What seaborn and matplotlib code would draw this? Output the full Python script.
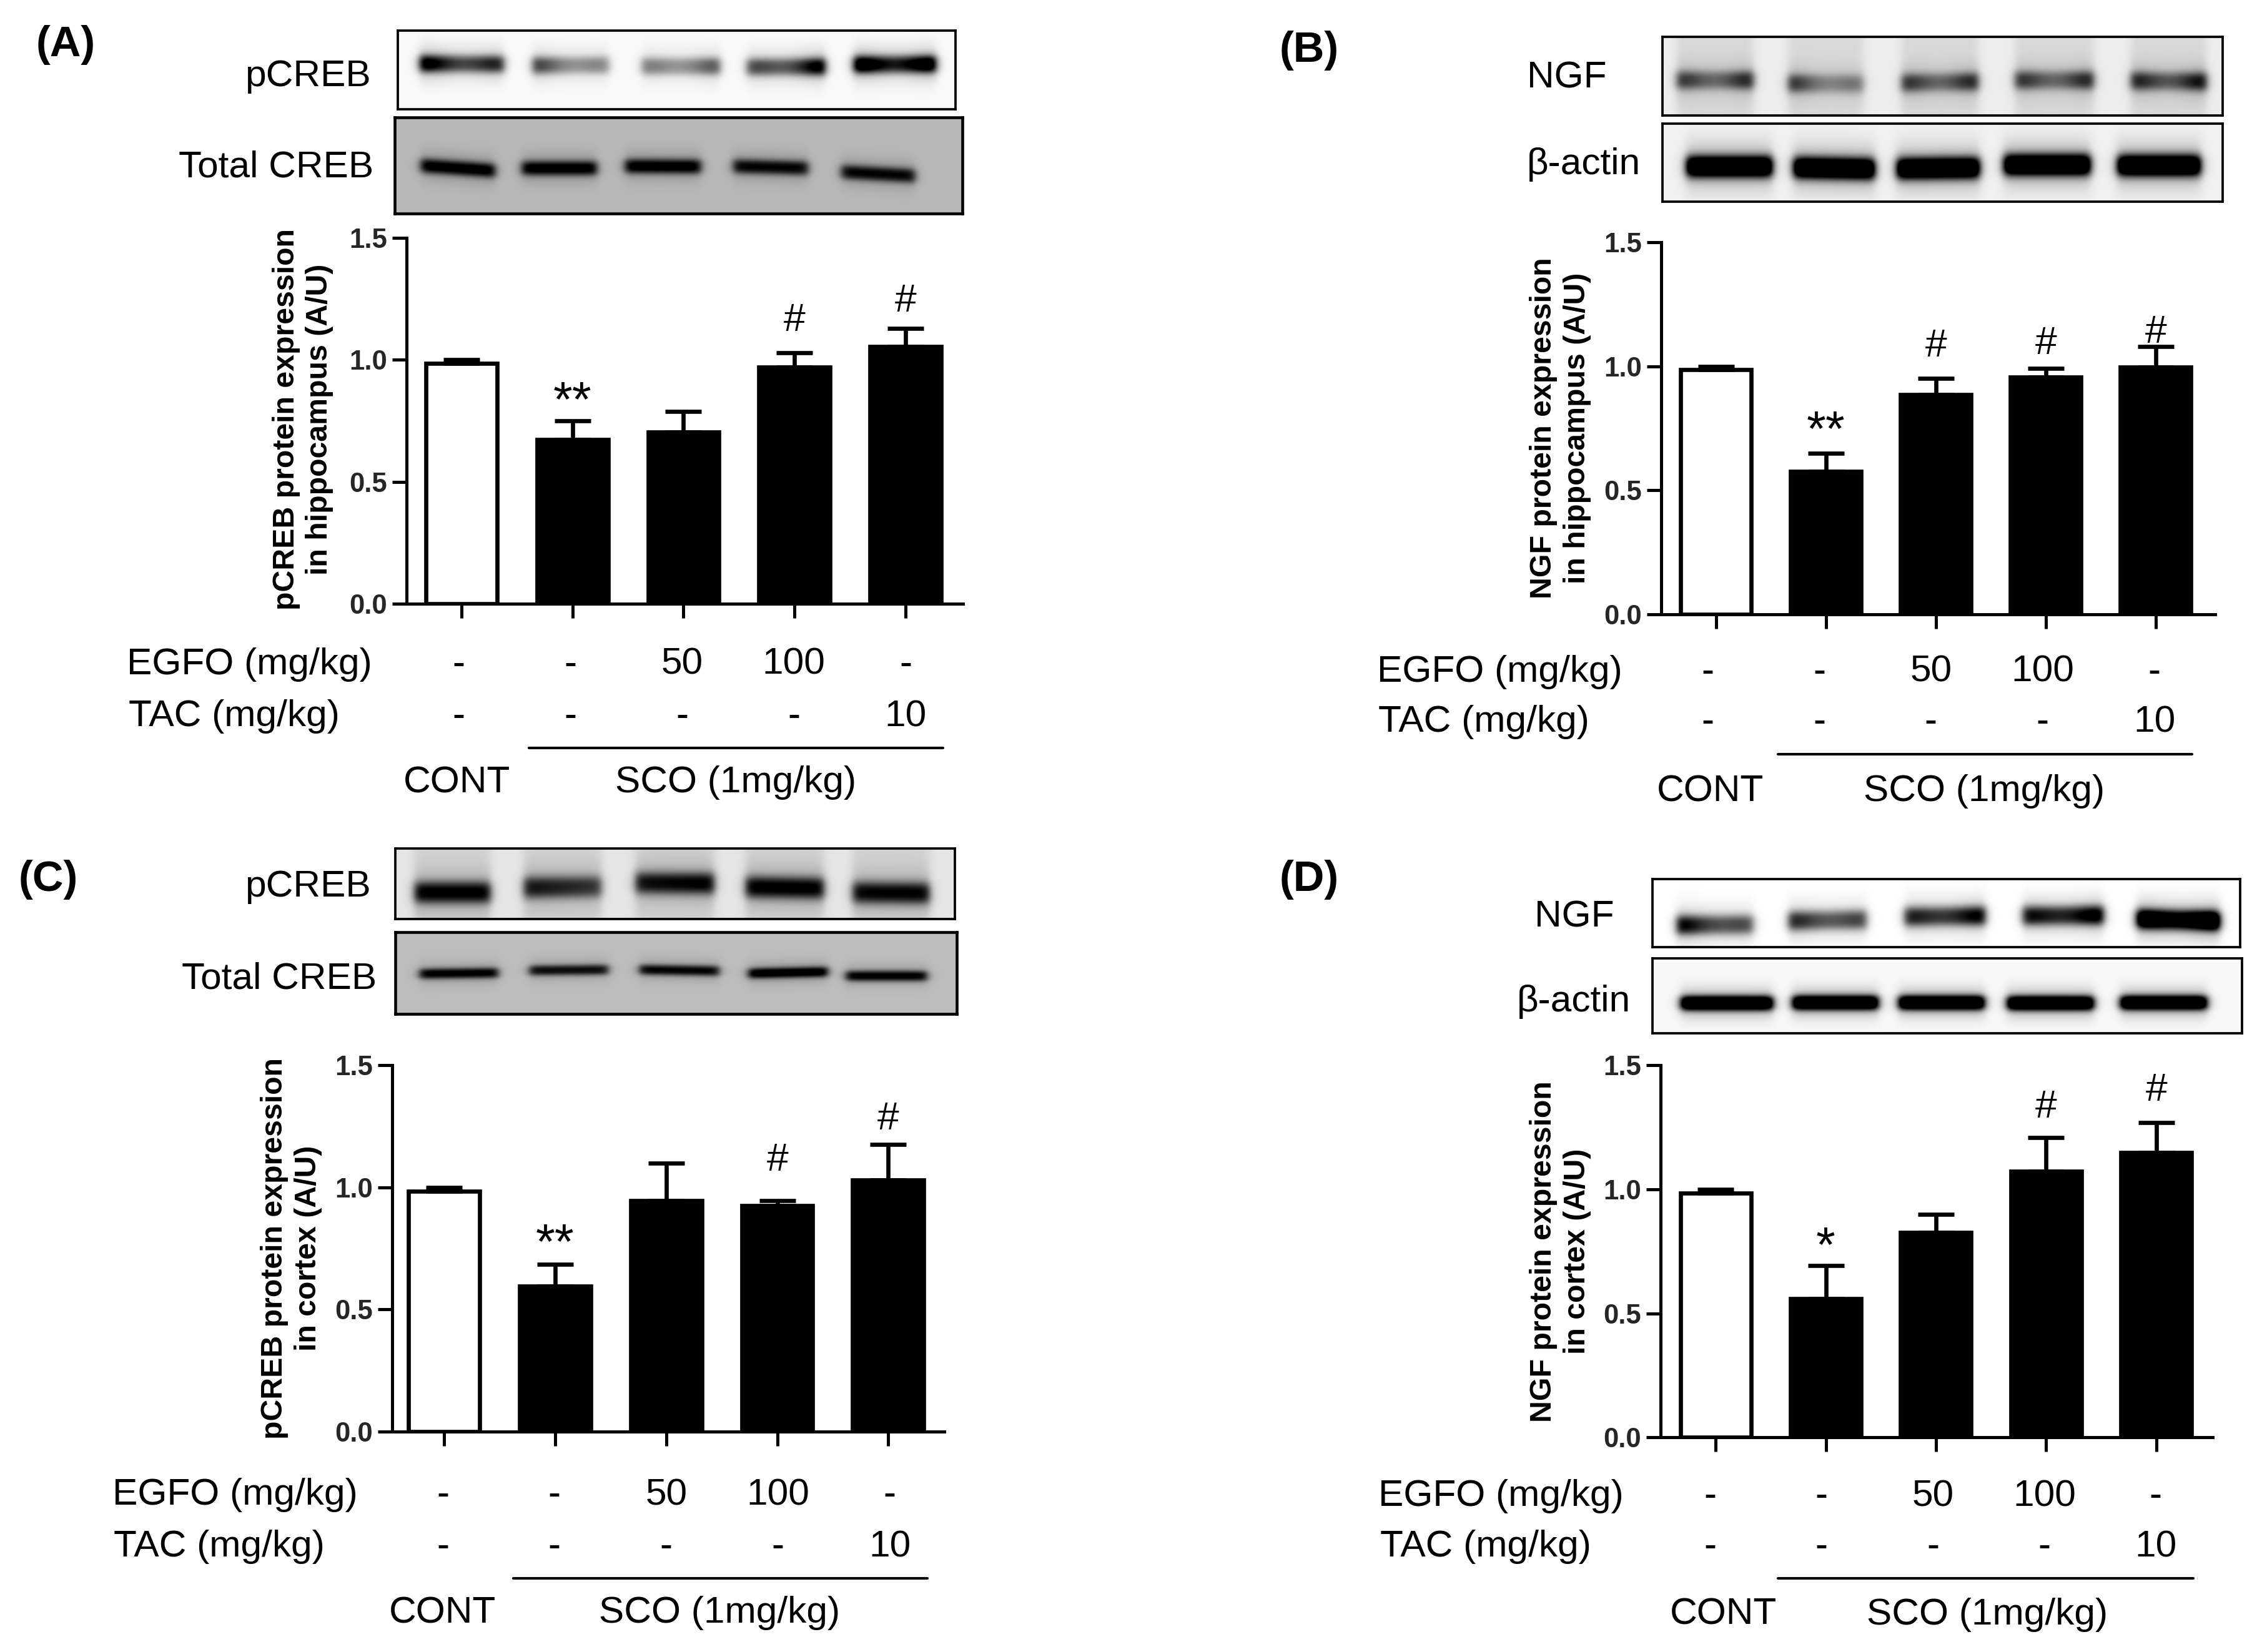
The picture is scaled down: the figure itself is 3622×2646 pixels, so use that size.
import numpy as np
import pandas as pd
import seaborn as sns
import matplotlib.pyplot as plt
from matplotlib.lines import Line2D

sns.set_style('ticks')
plt.rcParams['font.family'] = ['Liberation Sans', 'DejaVu Sans']
plt.rcParams['axes.unicode_minus'] = False

# data
groups = ['CONT', 'SCO', 'SCO+EGFO50', 'SCO+EGFO100', 'SCO+TAC10']
egfo_dose = ['-', '-', '50', '100', '-']
tac_dose = ['-', '-', '-', '-', '10']

a_values = [0.985, 0.675, 0.705, 0.97, 1.055]
a_tops = [1.00, 0.75, 0.79, 1.03, 1.13]
a_marks = ['', '**', '', '#', '#']
a_mark_y = [0, 0.82, 0, 1.16, 1.24]

b_values = [0.985, 0.575, 0.885, 0.955, 0.995]
b_tops = [1.00, 0.65, 0.95, 0.99, 1.08]
b_marks = ['', '**', '#', '#', '#']
b_mark_y = [0, 0.73, 1.08, 1.09, 1.135]

c_values = [0.985, 0.595, 0.945, 0.925, 1.03]
c_tops = [1.00, 0.686, 1.10, 0.945, 1.175]
c_marks = ['', '**', '', '#', '#']
c_mark_y = [0, 0.76, 0, 1.11, 1.28]

d_values = [0.985, 0.56, 0.825, 1.072, 1.148]
d_tops = [1.00, 0.694, 0.90, 1.21, 1.27]
d_marks = ['', '*', '', '#', '#']
d_mark_y = [0, 0.76, 0, 1.33, 1.40]

W, H = 3622, 2646
S = W / 1568.6  # layout numbers below are in 1568 wide px

fig = plt.figure(figsize=(W / 300, H / 300), dpi=300)


def txt(x, y, s, size=14.5, **kw):
    kw.setdefault('va', 'center')
    fig.text(x * S / W, 1 - (y + 2) * S / H, s, fontsize=size, color='black', **kw)


def draw_bars(box, c0, step, values, tops, marks, mark_y):
    left, right, y0, y1 = box
    ax = fig.add_axes([left * S / W, 1 - y0 * S / H,
                       (right - left) * S / W, (y0 - y1) * S / H])
    df = pd.DataFrame({'group': groups, 'value': values})
    sns.barplot(data=df, x='group', y='value', hue='group',
                palette=['white', 'black', 'black', 'black', 'black'],
                dodge=False, legend=False, width=0.64, saturation=1,
                edgecolor='black', linewidth=1.6, errorbar=None, ax=ax)
    err = np.array(tops) - np.array(values)
    ax.errorbar(range(5), values, yerr=[np.zeros(5), err], fmt='none',
                ecolor='black', elinewidth=1.6, capsize=7, capthick=1.6)
    ax.set_xlim((left - c0) / step, (right - c0) / step)
    ax.set_ylim(0, 1.5)
    ax.set_xticks(range(5))
    ax.set_xticklabels([])
    ax.set_yticks([0, 0.5, 1.0, 1.5])
    ax.set_yticklabels(['0.0', '0.5', '1.0', '1.5'], fontweight='bold', fontsize=10.5)
    ax.tick_params(axis='both', width=1.2, length=5.5, color='black', pad=2)
    ax.set_xlabel('')
    ax.set_ylabel('')
    ax.patch.set_alpha(0)
    for side in ['left', 'bottom']:
        ax.spines[side].set_linewidth(1.2)
        ax.spines[side].set_color('black')
    sns.despine(ax=ax)
    for i, m in enumerate(marks):
        if m:
            ax.text(i, mark_y[i], m, ha='center', va='center',
                    fontsize=19 if '*' in m else 15, color='black')


def treatment_rows(x_label, y1, y2, line, xc0, xstep, line_y, cont_x, sco_x, y3):
    txt(x_label, y1, 'EGFO (mg/kg)')
    txt(x_label + 1, y2, 'TAC (mg/kg)')
    for i in range(5):
        txt(xc0 + i * xstep, y1, egfo_dose[i], ha='center')
        txt(xc0 + i * xstep, y2, tac_dose[i], ha='center')
    fig.add_artist(Line2D([line[0] * S / W, line[1] * S / W],
                          [1 - line_y * S / H] * 2, color='black', lw=1.0))
    txt(cont_x, y3, 'CONT', ha='center')
    txt(sco_x, y3, 'SCO (1mg/kg)', ha='center')


def blot(crop, box, bg, thick, bands, haze=0.0, dip=0.0, lw=0.9):
    # crop/box/bands come from zoomed views: zoomed px to image px
    cx, cy, cw = crop
    fx = cw / 1568
    bx0, bx1, by0, by1 = box
    x0, x1 = cx + bx0 * fx, cx + bx1 * fx
    y0, y1 = cy + by0 / 3, cy + by1 / 3
    xs = np.arange(x0, x1)
    ys = np.arange(y0, y1)
    xx, yy = np.meshgrid(xs, ys)
    dark = np.zeros_like(xx)
    tint = np.zeros_like(xx)
    for b0, b1, yl, yr, dl, dr in bands:
        a, b = cx + b0 * fx, cx + b1 * fx
        t = np.clip((xx - a) / (b - a), 0, 1)
        yc = cy + (yl + (yr - yl) * t) / 3
        d = (dl + (dr - dl) * t) * (1 - dip * np.sin(np.pi * t) ** 2)
        edge = 0.5 * (np.tanh((xx - a) / 8) - np.tanh((xx - b) / 8))
        th = thick / 3 / 2
        dark += d * edge * (np.exp(-np.abs((yy - yc) / th) ** 2.6) * 0.85 +
                            0.25 * np.exp(-((yy - yc) / (th * 1.9)) ** 2))
        tint += haze * edge
    img = bg * (1 - np.clip(tint, 0, 1)) * (1 - np.clip(dark, 0, 1))
    ax = fig.add_axes([x0 / W, 1 - y1 / H, (x1 - x0) / W, (y1 - y0) / H])
    ax.imshow(img, cmap='gray', vmin=0, vmax=1, aspect='auto', interpolation='bilinear')
    ax.set_xticks([])
    ax.set_yticks([])
    for sp in ax.spines.values():
        sp.set_visible(True)
        sp.set_linewidth(lw)
        sp.set_color('black')


# ---- panel A
txt(25, 29, '(A)', size=16.5, fontweight='bold')
blot((620, 30, 960), (28, 1486, 58, 435), 0.98, 85,
     [(85, 305, 215, 218, 1.1, 0.8), (380, 580, 224, 222, 0.72, 0.4),
      (665, 870, 228, 228, 0.45, 0.62), (940, 1145, 232, 230, 0.62, 1.1),
      (1220, 1435, 220, 218, 1.2, 1.2)], dip=0.3)
blot((620, 30, 960), (20, 1505, 475, 935), 0.72, 70,
     [(88, 282, 705, 730, 1.0, 1.0), (352, 548, 718, 718, 1.0, 1.0),
      (622, 820, 708, 710, 1.0, 1.0), (905, 1100, 708, 718, 0.9, 0.9),
      (1188, 1380, 735, 755, 0.9, 0.9)], lw=1.1)
txt(257, 51, 'pCREB', ha='right')
txt(259, 114, 'Total CREB', ha='right')
draw_bars((282, 668, 419, 165), 320, 77, a_values, a_tops, a_marks, a_mark_y)
txt(210, 289, 'pCREB protein expression\nin hippocampus (A/U)', size=11.6,
    fontweight='bold', rotation=90, ha='center', linespacing=1.25)
treatment_rows(88, 459, 495, (367, 654), 318, 77.5, 519, 317, 510, 541)

# ---- panel B
txt(887, 33, '(B)', size=16.5, fontweight='bold')
blot((2660, 40, 960), (3, 1468, 58, 435), 0.93, 90,
     [(40, 240, 265, 265, 0.7, 0.8), (332, 528, 280, 282, 0.75, 0.4),
      (628, 828, 278, 272, 0.72, 0.8), (925, 1130, 265, 265, 0.72, 0.8),
      (1228, 1425, 268, 272, 0.8, 0.92)], haze=0.09, dip=0.35)
blot((2660, 40, 960), (3, 1468, 475, 850), 0.94, 105,
     [(65, 290, 680, 680, 1.4, 1.4), (345, 558, 685, 692, 1.4, 1.4),
      (615, 832, 690, 686, 1.4, 1.4), (895, 1122, 672, 672, 1.4, 1.4),
      (1192, 1410, 675, 675, 1.4, 1.4)])
txt(1059, 52, 'NGF')
txt(1059, 112, 'β-actin')
draw_bars((1152, 1536, 426, 168), 1190, 76.2, b_values, b_tops, b_marks, b_mark_y)
txt(1082, 295, 'NGF protein expression\nin hippocampus (A/U)', size=11.6,
    fontweight='bold', rotation=90, ha='center', linespacing=1.25)
treatment_rows(955, 464, 499, (1233, 1520), 1184, 77.5, 523, 1186, 1376, 547)

# ---- panel C
txt(13, 608, '(C)', size=16.5, fontweight='bold')
blot((620, 1350, 960), (22, 1485, 28, 365), 0.9, 105,
     [(72, 270, 238, 238, 0.95, 0.95), (358, 560, 215, 210, 0.85, 0.68),
      (650, 855, 192, 195, 0.85, 0.95), (938, 1142, 212, 218, 0.95, 0.95),
      (1218, 1418, 238, 242, 0.9, 0.92)], haze=0.09)
blot((620, 1350, 960), (22, 1490, 428, 822), 0.74, 50,
     [(85, 290, 630, 625, 0.95, 0.95), (372, 578, 614, 610, 0.85, 0.85),
      (660, 868, 610, 616, 0.9, 0.9), (945, 1152, 628, 620, 1.05, 1.05),
      (1200, 1412, 640, 640, 0.95, 0.95)], lw=1.1)
txt(257, 613, 'pCREB', ha='right')
txt(261, 677, 'Total CREB', ha='right')
draw_bars((272, 655, 993, 739), 308, 77, c_values, c_tops, c_marks, c_mark_y)
txt(202, 864, 'pCREB protein expression\nin cortex (A/U)', size=11.6,
    fontweight='bold', rotation=90, ha='center', linespacing=1.25)
treatment_rows(78, 1035, 1071, (356, 643), 307, 77.5, 1095, 307, 499, 1117)

# ---- panel D
txt(887, 608, '(D)', size=16.5, fontweight='bold')
blot((2640, 1400, 980), (10, 1515, 25, 352), 1.0, 95,
     [(72, 268, 245, 242, 1.0, 0.62), (358, 558, 225, 218, 0.82, 0.68),
      (655, 862, 205, 200, 0.82, 1.0), (958, 1165, 200, 198, 0.9, 1.1),
      (1250, 1462, 215, 225, 1.4, 1.6)], dip=0.2)
blot((2640, 1400, 980), (10, 1520, 405, 765), 0.97, 70,
     [(82, 318, 620, 620, 1.4, 1.4), (368, 588, 618, 618, 1.4, 1.4),
      (640, 860, 618, 618, 1.4, 1.4), (918, 1140, 620, 620, 1.4, 1.4),
      (1208, 1430, 618, 618, 1.4, 1.4)])
txt(1064, 634, 'NGF')
txt(1052, 693, 'β-actin')
draw_bars((1151.6, 1534.5, 997, 739), 1189.7, 76.4, d_values, d_tops, d_marks, d_mark_y)
txt(1082, 866, 'NGF protein expression\nin cortex (A/U)', size=11.6,
    fontweight='bold', rotation=90, ha='center', linespacing=1.25)
treatment_rows(956, 1036, 1071, (1233, 1521), 1186, 77.2, 1095, 1195, 1378, 1118)

fig.savefig('out.png', dpi=300, facecolor='white')
